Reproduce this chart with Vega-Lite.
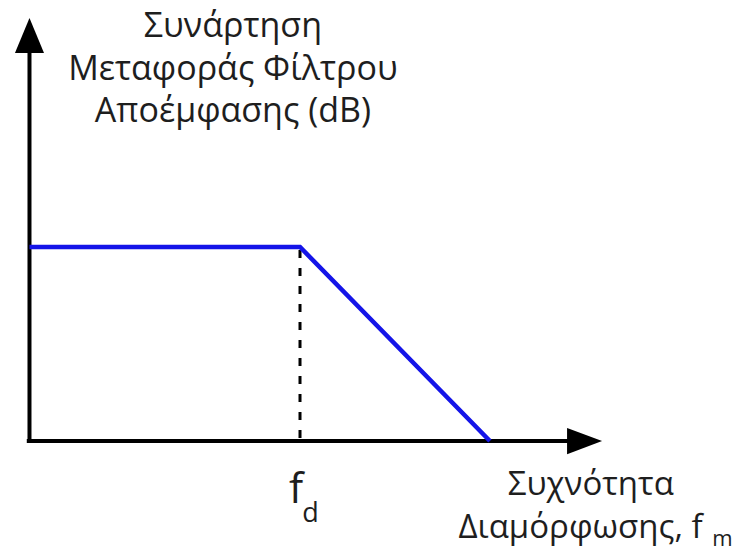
{
  "$schema": "https://vega.github.io/schema/vega-lite/v6.json",
  "width": 735,
  "height": 552,
  "autosize": {"type": "none"},
  "padding": 0,
  "background": "white",
  "config": {"view": {"stroke": null}},
  "datasets": {
    "response": [
      {"f": 0, "gain": 1},
      {"f": 1, "gain": 1},
      {"f": 1.702, "gain": 0}
    ],
    "axes": [
      {"name": "y", "x0": 0, "x1": 0, "y0": -0.01, "y1": 2.03},
      {"name": "x", "x0": -0.01, "x1": 2.02, "y0": 0, "y1": 0}
    ],
    "cutoff": [{"f": 1, "g0": 0.015, "g1": 0.99}],
    "arrows_up": [{"f": 0, "gain": 2.09}],
    "arrows_right": [{"f": 2.052, "gain": 0}],
    "gain_title": [
      {"text": "Συνάρτηση", "f": 0.752, "gain": 2.082},
      {"text": "Μεταφοράς Φίλτρου", "f": 0.752, "gain": 1.861},
      {"text": "Αποέμφασης (dB)", "f": 0.752, "gain": 1.644}
    ],
    "freq_title": [
      {"text": "Συχνότητα", "f": 2.075, "gain": -0.278},
      {"text": "Διαμόρφωσης, f", "f": 2.037, "gain": -0.5}
    ],
    "symbols": [{"text": "f", "f": 0.985, "gain": -0.32}],
    "subscripts": [
      {"text": "d", "f": 1.008, "gain": -0.418}
    ],
    "subscripts_small": [
      {"text": "m", "f": 2.524, "gain": -0.541}
    ]
  },
  "layer": [
    {
      "data": {"name": "axes"},
      "mark": {"type": "rule", "color": "black", "strokeWidth": 4},
      "encoding": {
        "x": {"field": "x0", "type": "quantitative", "scale": {"domain": [-0.109, 2.608], "nice": false, "zero": false}, "axis": null},
        "x2": {"field": "x1"},
        "y": {"field": "y0", "type": "quantitative", "scale": {"domain": [-0.572, 2.273], "nice": false, "zero": false}, "axis": null},
        "y2": {"field": "y1"}
      }
    },
    {
      "data": {"name": "cutoff"},
      "mark": {"type": "rule", "color": "black", "strokeWidth": 3, "strokeDash": [8, 10]},
      "encoding": {
        "x": {"field": "f", "type": "quantitative"},
        "y": {"field": "g0", "type": "quantitative"},
        "y2": {"field": "g1"}
      }
    },
    {
      "data": {"name": "response"},
      "mark": {"type": "line", "color": "#1414e8", "strokeWidth": 4.5, "strokeJoin": "miter"},
      "encoding": {
        "x": {"field": "f", "type": "quantitative"},
        "y": {"field": "gain", "type": "quantitative"}
      }
    },
    {
      "data": {"name": "arrows_up"},
      "mark": {"type": "point", "filled": true, "color": "black", "opacity": 1, "size": 1225, "shape": "M-0.83,1L0,-1L0.83,1Z"},
      "encoding": {
        "x": {"field": "f", "type": "quantitative"},
        "y": {"field": "gain", "type": "quantitative"}
      }
    },
    {
      "data": {"name": "arrows_right"},
      "mark": {"type": "point", "filled": true, "color": "black", "opacity": 1, "size": 1225, "shape": "M-1,-0.75L1,0L-1,0.75Z"},
      "encoding": {
        "x": {"field": "f", "type": "quantitative"},
        "y": {"field": "gain", "type": "quantitative"}
      }
    },
    {
      "data": {"name": "gain_title"},
      "mark": {"type": "text", "font": "Open Sans", "fontSize": 34, "color": "#1e1e1e", "align": "center", "baseline": "alphabetic"},
      "encoding": {
        "x": {"field": "f", "type": "quantitative"},
        "y": {"field": "gain", "type": "quantitative"},
        "text": {"field": "text"}
      }
    },
    {
      "data": {"name": "freq_title"},
      "mark": {"type": "text", "font": "Open Sans", "fontSize": 33, "color": "#1e1e1e", "align": "center", "baseline": "alphabetic"},
      "encoding": {
        "x": {"field": "f", "type": "quantitative"},
        "y": {"field": "gain", "type": "quantitative"},
        "text": {"field": "text"}
      }
    },
    {
      "data": {"name": "symbols"},
      "mark": {"type": "text", "font": "Open Sans", "fontSize": 42, "color": "#1e1e1e", "align": "center", "baseline": "alphabetic"},
      "encoding": {
        "x": {"field": "f", "type": "quantitative"},
        "y": {"field": "gain", "type": "quantitative"},
        "text": {"field": "text"}
      }
    },
    {
      "data": {"name": "subscripts"},
      "mark": {"type": "text", "font": "Open Sans", "fontSize": 27, "color": "#1e1e1e", "align": "left", "baseline": "alphabetic"},
      "encoding": {
        "x": {"field": "f", "type": "quantitative"},
        "y": {"field": "gain", "type": "quantitative"},
        "text": {"field": "text"}
      }
    },
    {
      "data": {"name": "subscripts_small"},
      "mark": {"type": "text", "font": "Open Sans", "fontSize": 22, "color": "#1e1e1e", "align": "left", "baseline": "alphabetic"},
      "encoding": {
        "x": {"field": "f", "type": "quantitative"},
        "y": {"field": "gain", "type": "quantitative"},
        "text": {"field": "text"}
      }
    }
  ]
}
